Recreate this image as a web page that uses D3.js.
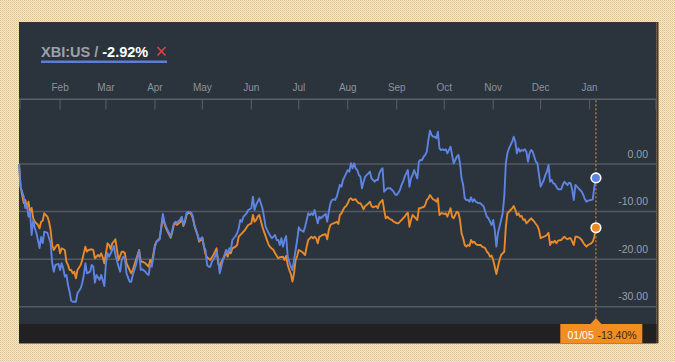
<!DOCTYPE html>
<html><head><meta charset="utf-8">
<script src="https://cdn.jsdelivr.net/npm/d3@7"></script>
<style>html,body{margin:0;padding:0;background:#f1e5c7;}svg{display:block;font-family:"Liberation Sans",Arial,sans-serif;}</style>
</head><body>
<svg id="c" width="675" height="362"></svg>
<script>
// ---- data (day offset from 2016-01-06, % change) ----
const ticker = "XBI:US";
const lastDateLabel = "01/05";
const yTicks = [0, -10, -20, -30];
const xbiSeries = [[0,0],[1,-4.77],[3,-6.87],[4,-9.25],[5,-8.62],[6,-11.08],[7,-10.03],[8,-14.92],[9,-11.77],[10,-13.45],[11,-14.5],[12,-15.98],[13,-17.66],[14,-15.35],[15,-16.61],[16,-14.23],[18,-14.5],[19,-15.56],[20,-16.61],[21,-20.81],[22,-22.64],[23,-21.23],[25,-21.0],[26,-22.28],[27,-20.87],[28,-21.93],[29,-23.69],[30,-23.33],[31,-25.44],[32,-26.84],[33,-28.74],[34,-28.95],[36,-28.95],[37,-27.18],[39,-26.13],[40,-25.08],[41,-23.33],[42,-20.87],[43,-22.98],[45,-22.64],[46,-21.23],[47,-21.59],[48,-24.95],[49,-23.33],[51,-24.38],[52,-23.33],[53,-24.38],[54,-25.65],[55,-20.87],[56,-18.77],[57,-19.49],[59,-18.08],[60,-17.24],[61,-19.13],[63,-21.59],[64,-22.64],[65,-20.18],[66,-19.49],[67,-19.82],[68,-22.98],[70,-24.74],[71,-24.74],[72,-23.33],[73,-22.28],[74,-21.23],[76,-18.08],[77,-22.28],[78,-22.13],[80,-22.64],[81,-23.12],[82,-23.33],[83,-21.23],[84,-21.59],[86,-17.38],[87,-16.33],[88,-16.12],[89,-15.83],[90,-13.18],[91,-10.51],[92,-12.13],[93,-13.18],[94,-13.87],[96,-15.28],[97,-13.87],[98,-12.47],[99,-12.13],[100,-12.34],[102,-11.62],[103,-11.08],[104,-12.82],[105,-11.77],[106,-10.36],[107,-10.03],[109,-10.24],[110,-11.08],[111,-12.82],[112,-13.87],[113,-14.92],[114,-15.98],[116,-15.41],[117,-17.38],[118,-18.08],[119,-21.23],[120,-21.59],[121,-21.59],[122,-20.54],[124,-19.49],[125,-18.44],[126,-20.18],[127,-22.98],[128,-21.59],[129,-20.18],[131,-18.08],[132,-18.77],[133,-17.72],[134,-18.08],[135,-15.98],[137,-15.14],[138,-14.57],[139,-13.52],[140,-11.77],[141,-12.13],[142,-11.08],[144,-10.36],[145,-9.67],[147,-9.31],[148,-6.87],[149,-9.67],[150,-8.62],[151,-7.92],[152,-7.21],[153,-8.26],[154,-9.31],[155,-11.08],[156,-13.18],[158,-14.57],[159,-15.14],[160,-15.62],[162,-14.92],[163,-15.98],[164,-15.98],[165,-17.03],[166,-15.62],[167,-17.38],[168,-15.98],[169,-15.14],[170,-19.49],[171,-20.54],[172,-21.59],[173,-22.28],[175,-18.08],[176,-15.98],[177,-13.31],[178,-13.87],[180,-14.23],[181,-13.18],[182,-11.77],[183,-10.36],[184,-10.72],[185,-10.36],[186,-10.72],[187,-9.67],[188,-11.08],[189,-12.47],[190,-11.08],[191,-11.41],[192,-11.08],[194,-10.51],[195,-12.13],[196,-10.03],[197,-8.26],[198,-7.57],[199,-7.42],[200,-7.57],[201,-6.87],[203,-4.41],[204,-4.77],[205,-3.36],[206,-2.67],[207,-1.96],[208,-1.26],[209,-1.62],[210,0.15],[211,-0.9],[212,0.15],[213,-0.9],[214,-1.26],[215,-2.31],[216,-2.67],[217,-5.11],[218,-3.72],[219,-2.67],[221,-1.96],[222,-1.62],[223,-3.01],[224,-3.36],[225,-3.72],[226,-3.36],[227,-3.36],[228,-1.96],[229,-1.26],[230,-0.9],[231,-5.82],[233,-5.11],[234,-5.11],[235,-5.11],[236,-5.47],[237,-5.82],[238,-6.4],[239,-6.52],[240,-6.03],[241,-5.47],[242,-4.41],[243,-3.72],[244,-2.67],[245,-1.96],[246,-1.26],[247,-4.77],[248,-3.01],[249,-2.31],[250,-1.26],[252,-3.01],[253,0.48],[254,0.84],[255,0.84],[256,1.53],[257,1.89],[258,2.59],[259,5.05],[260,7.0],[261,6.1],[262,5.74],[263,5.74],[264,5.4],[265,6.79],[266,3.3],[267,2.94],[268,3.09],[269,2.94],[270,3.09],[271,2.25],[273,3.64],[274,1.89],[275,0.15],[276,0.84],[277,1.53],[278,1.89],[279,0.15],[280,-3.01],[281,-4.41],[282,-7.21],[283,-7.57],[284,-7.57],[285,-7.92],[286,-7.0],[287,-7.92],[288,-7.42],[289,-7.92],[290,-8.14],[292,-8.26],[293,-8.62],[294,-8.98],[295,-10.03],[296,-11.08],[297,-11.41],[298,-12.13],[299,-12.82],[300,-11.77],[301,-13.87],[302,-17.38],[303,-14.57],[304,-13.18],[305,-11.77],[306,-10.36],[307,-6.87],[308,0.15],[309,2.25],[310,3.3],[312,4.69],[313,5.74],[314,4.69],[315,2.25],[316,3.3],[317,2.59],[318,2.94],[319,2.8],[320,3.09],[321,2.59],[322,0.48],[323,2.25],[324,2.94],[325,2.59],[326,1.53],[327,0.48],[328,0.15],[329,-2.31],[330,-4.77],[331,-4.06],[332,-3.36],[333,-2.31],[334,-1.62],[335,-0.21],[336,-3.72],[337,-3.36],[338,-4.06],[339,-4.2],[340,-4.77],[341,-5.32],[343,-5.32],[344,-4.41],[345,-3.72],[346,-4.06],[347,-4.41],[348,-3.93],[349,-4.06],[350,-5.47],[351,-7.57],[352,-4.41],[353,-4.77],[354,-5.11],[355,-5.47],[356,-5.82],[357,-6.52],[358,-7.42],[359,-7.92],[360,-7.71],[362,-7.57],[363,-7.42],[364,-4.77],[365,-2.92]];
const compareSeries = [[0,0],[1,-4.77],[3,-8.2],[4,-7.57],[5,-9.25],[6,-7.92],[7,-10.3],[8,-9.25],[9,-11.41],[10,-12.13],[12,-12.82],[13,-13.52],[14,-12.13],[15,-11.92],[16,-10.36],[18,-11.08],[19,-12.13],[20,-13.87],[21,-17.03],[22,-18.08],[24,-17.03],[25,-17.03],[26,-18.77],[27,-17.72],[29,-18.08],[30,-20.54],[31,-21.23],[32,-22.28],[33,-22.28],[34,-22.98],[35,-22.64],[36,-24.03],[37,-22.28],[39,-21.23],[40,-20.18],[42,-17.38],[43,-18.44],[44,-18.08],[46,-17.93],[47,-18.08],[48,-19.82],[50,-19.13],[51,-19.49],[52,-18.77],[53,-19.61],[54,-20.87],[56,-16.67],[57,-17.03],[58,-17.93],[59,-16.67],[60,-16.33],[61,-15.83],[62,-18.08],[63,-20.18],[65,-18.44],[66,-18.44],[67,-18.77],[68,-20.87],[70,-22.28],[71,-22.98],[72,-22.28],[73,-21.23],[74,-20.18],[76,-18.08],[77,-20.54],[78,-20.54],[80,-20.87],[81,-21.23],[82,-21.59],[83,-20.18],[84,-20.87],[86,-17.03],[87,-16.33],[89,-15.62],[90,-13.5],[91,-11.3],[92,-12.5],[93,-13.5],[94,-14.2],[96,-15.5],[97,-14.2],[98,-12.8],[99,-12.47],[100,-12.8],[102,-12.2],[103,-11.6],[104,-13.03],[105,-12.2],[106,-10.72],[107,-10.3],[108,-10.24],[109,-10.6],[110,-11.4],[111,-13.0],[112,-14.0],[113,-15.0],[114,-16.33],[116,-15.62],[117,-17.38],[118,-19.0],[119,-19.61],[120,-19.9],[121,-20.18],[123,-19.13],[124,-18.44],[125,-17.72],[126,-20.87],[127,-21.93],[128,-20.54],[130,-19.49],[131,-18.44],[132,-19.49],[133,-18.44],[134,-18.77],[135,-17.72],[137,-17.38],[138,-17.03],[139,-15.28],[141,-14.57],[143,-13.87],[144,-13.31],[145,-12.82],[147,-12.47],[148,-10.72],[149,-12.13],[150,-11.77],[151,-11.08],[152,-10.72],[153,-11.92],[154,-13.18],[155,-14.23],[157,-16.12],[158,-17.03],[159,-17.51],[161,-18.08],[162,-18.77],[164,-19.82],[165,-19.61],[167,-19.49],[168,-20.18],[169,-19.34],[170,-21.23],[171,-22.28],[172,-23.12],[173,-24.74],[174,-22.98],[175,-20.18],[176,-19.34],[177,-18.08],[179,-18.44],[180,-18.77],[181,-19.13],[182,-17.38],[183,-15.98],[184,-15.62],[185,-15.28],[186,-15.62],[187,-15.28],[188,-15.62],[189,-16.67],[190,-15.28],[191,-15.14],[192,-14.92],[194,-14.78],[195,-15.83],[196,-13.87],[197,-12.82],[198,-12.61],[199,-12.47],[200,-12.34],[201,-12.13],[202,-12.61],[203,-10.72],[204,-10.36],[205,-9.67],[206,-9.1],[207,-8.83],[208,-8.26],[209,-7.42],[210,-7.21],[211,-7.57],[213,-7.42],[214,-7.92],[215,-8.26],[216,-8.26],[217,-8.83],[218,-9.52],[219,-8.83],[220,-8.62],[221,-8.26],[222,-7.92],[223,-8.83],[224,-9.1],[225,-8.98],[226,-8.83],[227,-9.31],[228,-8.26],[229,-7.92],[230,-7.57],[231,-9.67],[232,-11.41],[233,-11.08],[234,-11.41],[235,-11.62],[236,-11.77],[237,-12.13],[238,-12.3],[239,-12.4],[240,-12.47],[241,-12.13],[242,-11.77],[243,-11.41],[244,-11.08],[245,-10.57],[246,-10.24],[247,-13.18],[248,-11.77],[249,-10.72],[250,-11.08],[252,-11.77],[253,-9.31],[254,-9.31],[255,-9.1],[256,-9.1],[257,-8.62],[258,-7.57],[259,-7.21],[260,-6.52],[261,-7.0],[262,-7.42],[263,-7.57],[264,-7.92],[265,-7.21],[266,-10.72],[267,-10.36],[268,-10.36],[269,-10.51],[270,-10.36],[271,-11.08],[273,-9.31],[274,-11.08],[275,-11.41],[276,-10.72],[277,-10.03],[278,-10.24],[279,-11.77],[280,-14.57],[281,-15.62],[282,-17.03],[283,-17.38],[284,-17.03],[285,-17.24],[286,-15.98],[287,-16.54],[288,-16.33],[289,-16.82],[290,-17.03],[292,-17.03],[293,-17.38],[294,-17.51],[295,-17.72],[296,-18.44],[297,-18.77],[298,-19.49],[299,-19.23],[300,-20.18],[301,-21.59],[302,-23.12],[303,-21.59],[304,-20.18],[305,-19.13],[306,-18.77],[307,-18.44],[308,-13.18],[309,-10.36],[310,-10.03],[311,-9.67],[312,-9.31],[313,-8.83],[314,-9.67],[315,-10.72],[316,-10.36],[317,-11.08],[318,-10.93],[319,-11.77],[320,-11.62],[321,-12.47],[323,-11.77],[324,-11.41],[325,-11.77],[326,-12.13],[327,-12.61],[328,-13.03],[329,-13.87],[330,-15.62],[331,-15.41],[332,-15.28],[333,-15.14],[334,-14.92],[335,-14.44],[336,-17.03],[337,-16.33],[338,-16.54],[339,-16.12],[340,-16.67],[341,-16.12],[343,-15.98],[344,-15.62],[345,-15.28],[346,-15.62],[347,-15.83],[348,-15.62],[349,-15.62],[350,-16.33],[351,-17.03],[352,-15.28],[353,-15.28],[354,-15.41],[355,-15.62],[356,-15.98],[357,-16.54],[358,-17.03],[359,-17.38],[360,-17.03],[362,-16.67],[363,-16.33],[364,-15.28],[365,-13.4]];

// ---- setup ----
const start = new Date(Date.UTC(2016, 0, 6));
const toDate = d => d3.utcDay.offset(start, d);
const svg = d3.select("#c");
const P = {l: 19, r: 656.5, t: 22, b: 343.3};

const x = d3.scaleUtc().domain([start, d3.utcDay.offset(start, 403)]).range([19, 656]);
const y = d3.scaleLinear().domain([0, -30]).range([164, 306.7]);
const fmt = v => d3.format(".2f")(v).replace("\u2212", "-");

// page pattern background
const defs = svg.append("defs");
const pat = defs.append("pattern").attr("id", "dots").attr("width", 2).attr("height", 2).attr("patternUnits", "userSpaceOnUse");
pat.append("rect").attr("width", 2).attr("height", 2).attr("fill", "#f6ecd2");
pat.append("rect").attr("width", 1).attr("height", 1).attr("fill", "#d8bf8c");
pat.append("rect").attr("x", 1).attr("y", 1).attr("width", 1).attr("height", 1).attr("fill", "#e2cea2");
svg.append("rect").attr("width", 675).attr("height", 362).attr("fill", "url(#dots)");

// panel
svg.append("rect").attr("x", P.l).attr("y", P.t).attr("width", P.r - P.l).attr("height", P.b - P.t).attr("fill", "#2b333d");
svg.append("rect").attr("x", P.r).attr("y", P.t).attr("width", 2).attr("height", P.b - P.t).attr("fill", "#45392a");
// bottom band
svg.append("rect").attr("x", P.l).attr("y", 324).attr("width", P.r - P.l).attr("height", P.b - 324).attr("fill", "#212121");

// legend
const leg = svg.append("text").attr("x", 41).attr("y", 57).attr("font-size", 14.5).attr("font-weight", "bold");
leg.append("tspan").attr("fill", "#9ca2aa").text(ticker + " / ");
leg.append("tspan").attr("fill", "#ffffff").text(fmt(xbiSeries[xbiSeries.length - 1][1]) + "%");
svg.append("path").attr("d", "M157.5,47 L165.5,55.5 M165.5,47 L157.5,55.5").attr("stroke", "#e0403f").attr("stroke-width", 1.7).attr("fill", "none");
svg.append("line").attr("x1", 41).attr("x2", 167).attr("y1", 61.7).attr("y2", 61.7).attr("stroke", "#5b7fd9").attr("stroke-width", 2.5);

// grid lines
svg.append("g").selectAll("line").data(yTicks).join("line")
  .attr("x1", P.l).attr("x2", P.r).attr("y1", d => y(d)).attr("y2", d => y(d))
  .attr("stroke", "#535a64").attr("stroke-width", 1.5);
svg.append("g").selectAll("text").data(yTicks).join("text")
  .attr("x", 648).attr("y", d => y(d) - 6.5).attr("text-anchor", "end")
  .attr("font-size", 10.5).attr("fill", "#9aa0a8").text(d => fmt(d));

// top month axis
const months = d3.utcMonth.range(new Date(Date.UTC(2016, 1, 1)), new Date(Date.UTC(2017, 1, 1)));
const axisY = 99.3;
svg.append("line").attr("x1", P.l).attr("x2", P.r).attr("y1", axisY).attr("y2", axisY).attr("stroke", "#5a616b").attr("stroke-width", 1.5);
svg.append("g").selectAll("line").data([x.range()[0] + 1, ...months.map(m => x(m)), x.range()[1]]).join("line")
  .attr("x1", d => d).attr("x2", d => d).attr("y1", axisY).attr("y2", 109.5)
  .attr("stroke", "#5a616b").attr("stroke-width", 1);
svg.append("g").selectAll("text").data(months).join("text")
  .attr("x", d => x(d)).attr("y", 91).attr("text-anchor", "middle")
  .attr("font-size", 10).attr("fill", "#8b929b").text(d3.utcFormat("%b"));

// lines
const line = d3.line().x(d => x(toDate(d[0]))).y(d => y(d[1]));
svg.append("path").datum(compareSeries).attr("d", line).attr("fill", "none").attr("stroke", "#e88a2a").attr("stroke-width", 1.9).attr("stroke-linejoin", "round");
svg.append("path").datum(xbiSeries).attr("d", line).attr("fill", "none").attr("stroke", "#5e84e2").attr("stroke-width", 1.9).attr("stroke-linejoin", "round");

// crosshair
const lastX = x(toDate(xbiSeries[xbiSeries.length - 1][0]));
svg.append("line").attr("x1", lastX).attr("x2", lastX).attr("y1", axisY + 1).attr("y2", 318)
  .attr("stroke", "#d99a45").attr("stroke-width", 1).attr("stroke-dasharray", "2,2");
const lastC = compareSeries[compareSeries.length - 1];
const lastB = xbiSeries[xbiSeries.length - 1];
svg.append("circle").attr("cx", lastX).attr("cy", y(lastB[1])).attr("r", 4.8).attr("fill", "#5e84e2").attr("stroke", "#fff").attr("stroke-width", 1.6);
svg.append("circle").attr("cx", lastX).attr("cy", y(lastC[1])).attr("r", 4.8).attr("fill", "#ee8a26").attr("stroke", "#fff").attr("stroke-width", 1.6);

// tooltip box
svg.append("path").attr("d", `M${lastX - 5.5},324 L${lastX},318 L${lastX + 5.5},324 Z`).attr("fill", "#f28d22");
svg.append("rect").attr("x", 560.3).attr("y", 324).attr("width", 82).attr("height", P.b - 324).attr("fill", "#f28d22");
svg.append("text").attr("x", 567.5).attr("y", 339.3).attr("font-size", 10.5).attr("fill", "#ffffff").text(lastDateLabel);
svg.append("text").attr("x", 597.5).attr("y", 339.3).attr("font-size", 10.5).attr("fill", "#3a2a16").text(fmt(lastC[1]) + "%");
</script>
</body></html>
